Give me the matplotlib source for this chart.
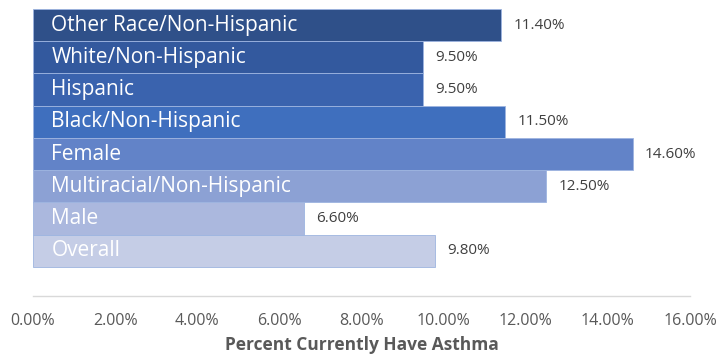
import matplotlib
matplotlib.use('Agg')
import matplotlib.pyplot as plt
from matplotlib.ticker import FuncFormatter

categories = ['Other Race/Non-Hispanic', 'White/Non-Hispanic', 'Hispanic',
              'Black/Non-Hispanic', 'Female', 'Multiracial/Non-Hispanic',
              'Male', 'Overall']
values = [11.4, 9.5, 9.5, 11.5, 14.6, 12.5, 6.6, 9.8]
colors = ['#2F5089', '#33599E', '#3A63AE', '#3F6FBE',
          '#6283C8', '#8CA1D4', '#ABB8DE', '#C5CDE6']
x_ticks = [0, 2, 4, 6, 8, 10, 12, 14, 16]

fig = plt.figure(figsize=(7.18, 3.56), dpi=100)
ax = fig.add_axes([33 / 718, 1 - 296 / 356, 657 / 718, 287 / 356])

ypos = list(range(len(categories)))[::-1]
ax.barh(ypos, values, height=1.0, color=colors, edgecolor='#9DB4E0', linewidth=0.6)

for y, name, v in zip(ypos, categories, values):
    ax.text(0.45, y, name, color='white', fontsize=15, family='Open Sans',
            va='center', ha='left')
    ax.text(v + 0.3, y, '{:.2f}%'.format(v), color='#404040', fontsize=11,
            family='Open Sans', va='center', ha='left')

ax.set_xlim(0, 16)
ax.set_ylim(-1.4, 7.5)
ax.set_xticks(x_ticks)
ax.xaxis.set_major_formatter(FuncFormatter(lambda v, p: '{:.2f}%'.format(v)))
ax.set_yticks([])
ax.tick_params(axis='x', length=0, pad=12, labelsize=11.5, labelcolor='#595959')
for lab in ax.get_xticklabels():
    lab.set_family('Open Sans')
for s in ['top', 'right', 'left']:
    ax.spines[s].set_visible(False)
ax.spines['bottom'].set_color('#D9D9D9')
ax.spines['bottom'].set_linewidth(1)
ax.set_xlabel('Percent Currently Have Asthma', fontsize=12.5, fontweight='bold',
              color='#595959', family='Open Sans', labelpad=5)

fig.savefig('out.png', dpi=100)
